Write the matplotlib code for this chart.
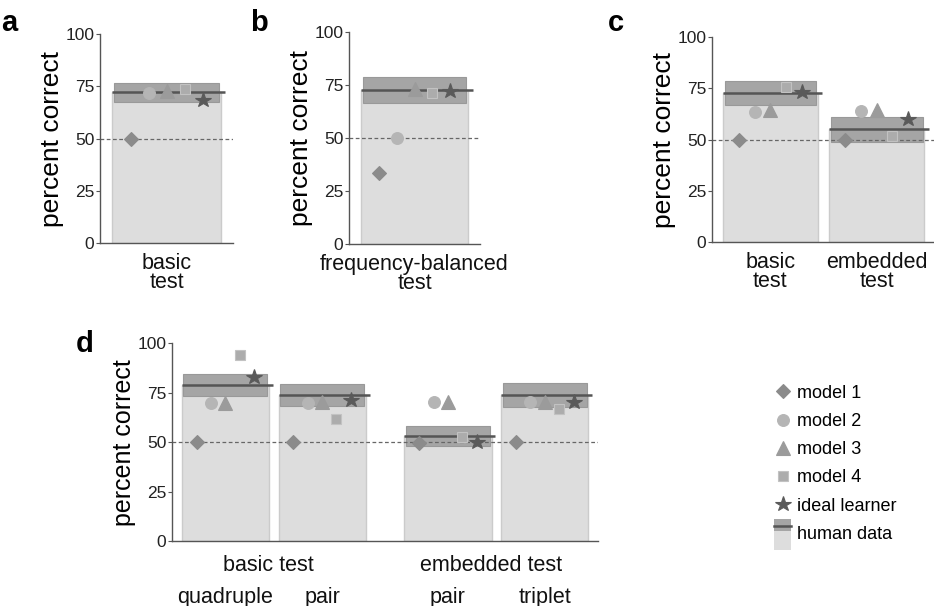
import numpy as np
import matplotlib.pyplot as plt
from matplotlib.lines import Line2D
from matplotlib.patches import Rectangle
from matplotlib.legend_handler import HandlerBase

plt.rcParams['font.family'] = ['Liberation Sans', 'DejaVu Sans']

# ---- data (percent correct) ----
model_names = ['model 1', 'model 2', 'model 3', 'model 4', 'ideal learner']

# panel a: basic test
a_labels = ['basic\ntest']
a_human_mean = [72.1]
a_human_low = [67.6]
a_human_high = [76.4]
a_models = [[50.0], [71.8], [72.7], [73.5], [68.4]]

# panel b: frequency-balanced test
b_labels = ['frequency-balanced\ntest']
b_human_mean = [72.6]
b_human_low = [66.4]
b_human_high = [78.9]
b_models = [[33.3], [50.0], [73.0], [71.0], [72.3]]

# panel c: basic vs embedded test
c_labels = ['basic\ntest', 'embedded\ntest']
c_human_mean = [72.5, 55.1]
c_human_low = [66.6, 48.9]
c_human_high = [78.6, 61.1]
c_models = [[50.0, 50.0], [63.5, 63.9], [64.3, 64.4], [75.7, 51.7], [73.0, 60.0]]

# panel d: by sequence length
d_groups = ['basic test', 'embedded test']
d_labels = ['quadruple', 'pair', 'pair', 'triplet']
d_human_mean = [78.8, 73.9, 53.1, 73.9]
d_human_low = [73.5, 68.5, 48.2, 67.9]
d_human_high = [84.3, 79.3, 58.2, 79.8]
d_models = [[50.0, 50.0, 49.7, 50.0],
            [69.7, 70.0, 70.2, 70.2],
            [70.0, 70.5, 70.5, 70.5],
            [94.1, 61.5, 52.5, 66.8],
            [83.1, 71.3, 50.2, 70.5]]

# ---- styles ----
markers = ['D', 'o', '^', 's', '*']
msizes = [7.5, 8.5, 9.5, 6.5, 11.5]
mcolors = ['#8b8b8b', '#b5b5b5', '#9b9b9b', '#acacac', '#5a5a5a']
medges = ['#8b8b8b', '#b5b5b5', '#9b9b9b', '#c2c2c2', '#5a5a5a']
light = '#dddddd'
dark = '#a5a5a5'
meanc = '#555555'
axc = '#555555'


def draw_panel(ax, pos, width, mean, low, high, models):
    pos = np.asarray(pos, dtype=float)
    ax.bar(pos, mean, width=width, color=light, edgecolor='#cbcbcb', lw=1, zorder=1)
    ax.bar(pos, np.subtract(high, low), bottom=low, width=width * 0.96,
           color=dark, edgecolor='#999999', lw=0.8, zorder=2)
    for p, m in zip(pos, mean):
        ax.hlines(m, p - width / 2, p + width / 2 + 0.04, color=meanc, lw=1.8, zorder=3)
    ax.axhline(50, color='#666666', lw=0.9, ls=(0, (3, 2)), zorder=2.5)
    for i, vals in enumerate(models):
        xs = pos + (i - 2) * 0.165 * width
        ax.plot(xs, vals, ls='none', marker=markers[i], ms=msizes[i],
                color=mcolors[i], mec=medges[i], mew=0.8, zorder=4 + i * 0.1)
    ax.set_ylim(0, 100)
    ax.set_yticks([0, 25, 50, 75, 100])
    for s in ['top', 'right']:
        ax.spines[s].set_visible(False)
    for s in ['left', 'bottom']:
        ax.spines[s].set_color(axc)
        ax.spines[s].set_linewidth(1)
    ax.tick_params(axis='y', direction='out', length=3, width=0.8, color=axc,
                   labelsize=12.5, pad=1, labelcolor='#222222')
    ax.tick_params(axis='x', length=0, labelsize=15.5, pad=7, labelcolor='#111111')


def tighten(ax):
    for t in ax.get_xticklabels():
        t.set_linespacing(0.9)


fig = plt.figure(figsize=(9.34, 6.06), dpi=100)

ax_a = fig.add_axes([0.1071, 0.599, 0.1424, 0.3449])
draw_panel(ax_a, [0], 1.0, a_human_mean, a_human_low, a_human_high, a_models)
ax_a.set_xlim(-0.61, 0.61)
ax_a.set_xticks([0], a_labels)
tighten(ax_a)
ax_a.set_ylabel('percent correct', fontsize=19, labelpad=1)

ax_b = fig.add_axes([0.3737, 0.5974, 0.1403, 0.3498])
draw_panel(ax_b, [0], 1.0, b_human_mean, b_human_low, b_human_high, b_models)
ax_b.set_xlim(-0.61, 0.61)
ax_b.set_xticks([0], b_labels)
tighten(ax_b)
ax_b.set_ylabel('percent correct', fontsize=19, labelpad=1)

ax_c = fig.add_axes([0.7623, 0.6002, 0.2377, 0.3392])
draw_panel(ax_c, [0, 1], 0.9, c_human_mean, c_human_low, c_human_high, c_models)
ax_c.set_xlim(-0.55, 1.54)
ax_c.set_xticks([0, 1], c_labels)
tighten(ax_c)
ax_c.set_ylabel('percent correct', fontsize=19, labelpad=1)

ax_d = fig.add_axes([0.1842, 0.1073, 0.4561, 0.3262])
d_pos = [0, 1, 2.3, 3.3]
draw_panel(ax_d, d_pos, 0.9, d_human_mean, d_human_low, d_human_high, d_models)
ax_d.set_xlim(-0.55, 3.85)
ax_d.set_xticks(d_pos, d_labels)
ax_d.tick_params(axis='x', pad=33)
ax_d.set_ylabel('percent correct', fontsize=18, labelpad=1)
for g, (i, j) in zip(d_groups, [(0, 1), (2, 3)]):
    ax_d.text((d_pos[i] + d_pos[j]) / 2 - 0.05, -0.125, g, transform=ax_d.get_xaxis_transform(),
              ha='center', va='center', fontsize=15.5, color='#111111')

# panel letters
for x, y, s in [(0.001, 0.985, 'a'), (0.268, 0.985, 'b'), (0.651, 0.985, 'c'), (0.081, 0.455, 'd')]:
    fig.text(x, y, s, fontsize=21, fontweight='bold', va='top', ha='left')


class HumanHandler(HandlerBase):
    def create_artists(self, legend, orig_handle, xdescent, ydescent, width, height, fontsize, trans):
        x0 = -xdescent
        cy = -ydescent + height / 2
        h = height
        r1 = Rectangle((x0, cy - 1.35 * h), width, 2.38 * h, facecolor=light,
                       edgecolor='none', transform=trans)
        r2 = Rectangle((x0, cy + 0.08 * h), width, 0.95 * h, facecolor=dark,
                       edgecolor='none', transform=trans)
        ln = Line2D([x0, x0 + width], [cy + 0.55 * h] * 2, color=meanc, lw=1.8, transform=trans)
        return [r1, r2, ln]


handles = [Line2D([], [], ls='none', marker=markers[i], ms=msizes[i], color=mcolors[i],
                  mec=medges[i], mew=0.8)
           for i in range(5)]
human_handle = Rectangle((0, 0), 1, 1)
handles.append(human_handle)
labels = model_names + ['human data']
fig.legend(handles, labels, loc='upper left', bbox_to_anchor=(0.8287, 0.365),
           frameon=False, fontsize=13, borderpad=0, borderaxespad=0,
           handlelength=0.95, handletextpad=0.35, labelspacing=0.62,
           handler_map={human_handle: HumanHandler()})

fig.savefig('out.png', dpi=100)
